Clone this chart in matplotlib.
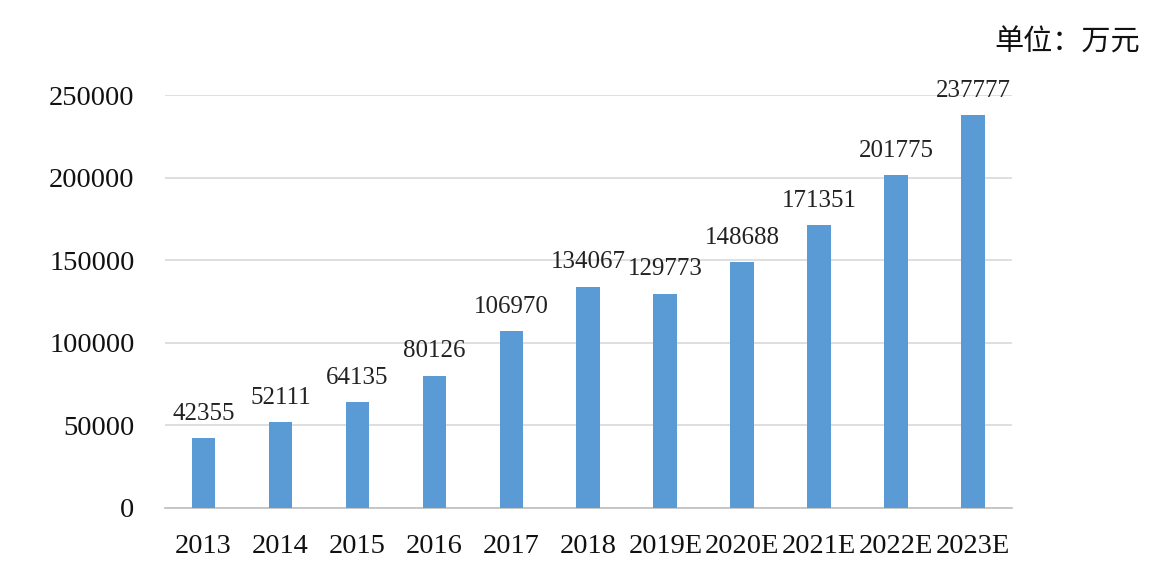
import matplotlib
matplotlib.use("Agg")
import matplotlib.pyplot as plt

categories = ["2013", "2014", "2015", "2016", "2017", "2018",
              "2019E", "2020E", "2021E", "2022E", "2023E"]
values = [42355, 52111, 64135, 80126, 106970, 134067,
          129773, 148688, 171351, 201775, 237777]
yticks = [0, 50000, 100000, 150000, 200000, 250000]

plt.rcParams['font.family'] = ['Liberation Serif', 'Noto Sans CJK SC']

fig = plt.figure(figsize=(11.55, 5.66), dpi=100)
ax = fig.add_axes([0.1429, 0.1025, 0.876 - 0.1429, 0.832 - 0.1025])

x = list(range(len(categories)))
bars = ax.bar(x, values, width=0.31, color="#5B9BD5", zorder=3)
for xi, v in zip(x, values):
    ax.text(xi, v + 8000, str(v), ha="center", va="bottom", fontsize=18,
            color="#222222")

ax.set_xlim(-0.5, len(categories) - 0.5)
ax.set_ylim(0, 250000)
ax.set_yticks(yticks)
ax.set_yticklabels([str(t) for t in yticks], fontsize=20.5)
ax.set_xticks(x)
ax.set_xticklabels(categories, fontsize=20.5)
ax.tick_params(axis="both", length=0, colors="#111111")
ax.tick_params(axis="x", pad=19)
ax.tick_params(axis="y", pad=22)

ax.grid(axis="y", color="#d9d9d9", linewidth=1.2, zorder=0)
for s in ["top", "right", "left"]:
    ax.spines[s].set_visible(False)
ax.spines["bottom"].set_color("#bfbfbf")
ax.spines["bottom"].set_linewidth(1.2)

fig.text(0.987, 0.925, "单位：万元", ha="right", va="center", fontsize=21,
         family=['Noto Sans CJK SC'], color="#111111")

fig.savefig("out.png", dpi=100, facecolor="white")
